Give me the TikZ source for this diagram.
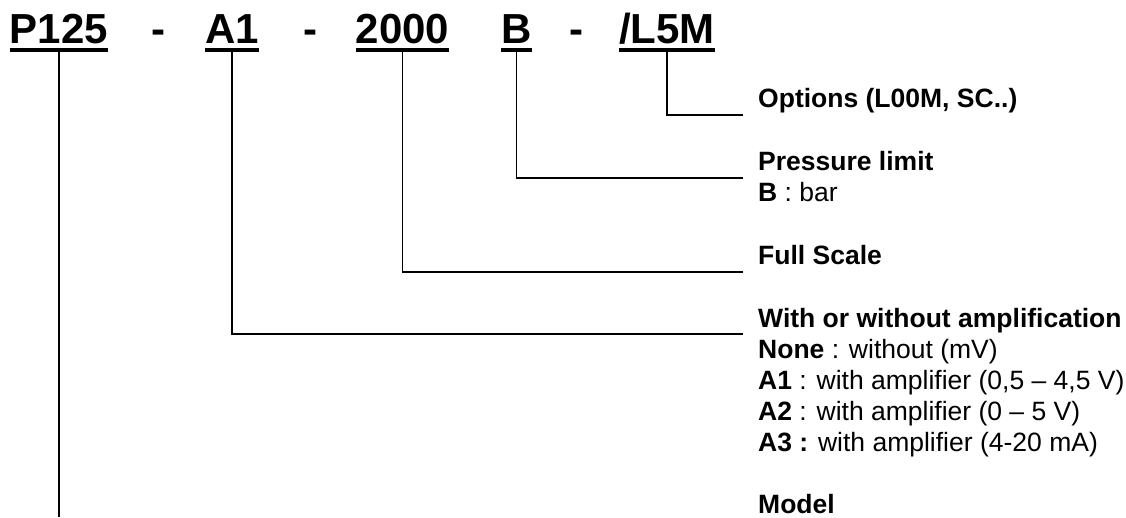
\documentclass[tikz,border=0pt]{standalone}
\usepackage{fontspec}
\setmainfont{Liberation Sans}
\usetikzlibrary{positioning,calc}

\begin{document}
\begin{tikzpicture}[
  x=1pt, y=-1pt,
  code/.style={font=\fontsize{42}{48}\selectfont\bfseries, inner sep=0pt, anchor=base},
  lbl/.style={font=\fontsize{26.5}{31}\selectfont, align=left, anchor=base west, inner sep=0pt},
  lead/.style={line width=1.6pt},
  uline/.style={line width=4pt}
]
\useasboundingbox (0,0) rectangle (1126,517);

\node[code] (model) at (59,43) {P125};
\node[code] (d1) at (158.5,43) {-};
\node[code] (amp) at (232,43) {A1};
\node[code] (d2) at (310,43) {-};
\node[code] (fs) at (402.5,43) {2000};
\node[code] (unit) at (516.5,43) {B};
\node[code] (d3) at (576,43) {-};
\node[code] (opt) at (667,43) {/L5M};

\coordinate (optend) at (743,115);
\coordinate (unitend) at (743,178);
\coordinate (fsend) at (743,272);
\coordinate (ampend) at (743,334);
\coordinate (bottom) at (60,517);

% multi-line labels sit on the baseline of their last line
\node[lbl] (optlbl) at ($(optend)+(15,-8)$) {\textbf{Options (L00M, SC..)}};
\node[lbl] (unitlbl) at ($(unitend)+(15,23)$) {\textbf{Pressure limit}\\\textbf{B} : bar};
\node[lbl] (fslbl) at ($(fsend)+(15,-8)$) {\textbf{Full Scale}};
\node[lbl] (amplbl) at ($(ampend)+(15,117)$) {\textbf{With or without amplification}\\
  \textbf{None} : without (mV)\\
  \textbf{A1} : with amplifier (0,5 -- 4,5 V)\\
  \textbf{A2} : with amplifier (0 -- 5 V)\\
  \textbf{A3 :} with amplifier (4-20 mA)};
\node[lbl] (modellbl) at (758,513) {\textbf{Model}};

\foreach \n in {model,amp,fs,unit,opt}
  \draw[uline] ([yshift=-7pt]\n.base west) -- ([yshift=-7pt]\n.base east);

\draw[lead] ([yshift=-7pt]opt.base) |- (optend);
\draw[lead] ([yshift=-7pt]unit.base) |- (unitend);
\draw[lead] ([yshift=-7pt]fs.base) |- (fsend);
\draw[lead] ([yshift=-7pt]amp.base) |- (ampend);
\draw[lead] ([yshift=-7pt]model.base) -- (model.base |- bottom);
\end{tikzpicture}
\end{document}
